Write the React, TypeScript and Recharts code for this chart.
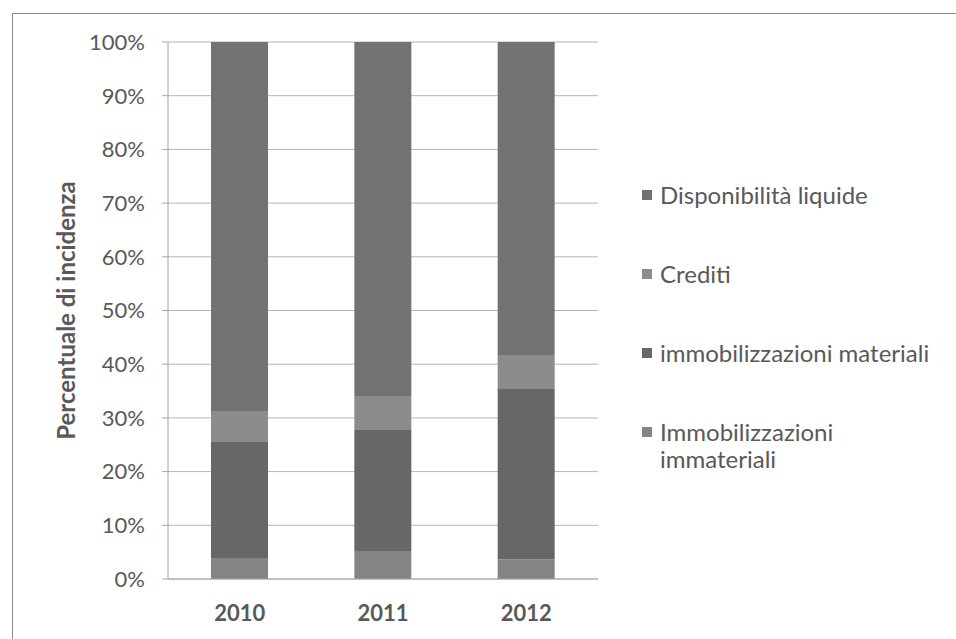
import * as React from 'react'
import {
  BarChart,
  Bar,
  XAxis,
  YAxis,
  CartesianGrid,
  Legend } from 'recharts';

const years = ['2010', '2011', '2012']
const immateriali = [3.9, 5.2, 3.7]
const materiali = [21.6, 22.7, 31.7]
const crediti = [5.8, 6.2, 6.3]
const disponibilita = [68.7, 65.9, 58.3]
const yTicks = [0, 10, 20, 30, 40, 50, 60, 70, 80, 90, 100]
const edgeTicks = [0, 1, 2, 3]
// legend reads top to bottom, opposite of the stack
const legendOrder = ['Disponibilità liquide', 'Crediti', 'immobilizzazioni materiali', 'Immobilizzazioni immateriali']

const data = years.map((year, i) => ({
  year,
  immateriali: immateriali[i],
  materiali: materiali[i],
  crediti: crediti[i],
  disponibilita: disponibilita[i],
}))

const font = 'Lato, "Open Sans", sans-serif'
const textGray = '#595959'

const LegendBox = (props: any) => {
  const payload = props.payload || []
  const items = legendOrder
    .map((name) => payload.find((p: any) => p.value === name))
    .filter(Boolean)
  return (
    <div style={{ fontFamily: font, fontSize: 24, color: textGray }}>
      {items.map((entry: any) => (
        <div key={entry.value} style={{ display: 'flex', alignItems: 'flex-start', lineHeight: '27px', marginBottom: 52 }}>
          <span style={{ display: 'inline-block', width: 10, height: 10, background: entry.color, marginTop: 9, marginRight: 8, flexShrink: 0 }} />
          <span style={{ width: 284 }}>{entry.value}</span>
        </div>
      ))}
    </div>
  )
}

const Chart = () => {
  return (
    <BarChart
      width={956}
      height={639}
      data={data}
      barCategoryGap="30%"
      margin={{ top: 42, right: 58, bottom: 0, left: 0 }}
    >
      <CartesianGrid vertical={false} stroke="#b5b5b5" />
      <XAxis
        xAxisId="edges"
        type="number"
        domain={[0, 3]}
        ticks={edgeTicks}
        height={0}
        tick={false}
        axisLine={false}
        tickSize={8}
        tickLine={{ stroke: '#9a9a9a' }}
      />
      <XAxis
        xAxisId="main"
        dataKey="year"
        height={60}
        tickLine={false}
        tickSize={0}
        tickMargin={26}
        axisLine={{ stroke: '#a6a6a6' }}
        tick={{ fill: textGray, fontFamily: font, fontSize: 22, fontWeight: 700 }}
      />
      <YAxis
        width={168}
        domain={[0, 100]}
        ticks={yTicks}
        tickFormatter={(v: number) => `${v}%`}
        tickSize={6}
        tickMargin={17}
        axisLine={{ stroke: '#a6a6a6' }}
        tickLine={{ stroke: '#a6a6a6' }}
        tick={{ fill: textGray, fontFamily: font, fontSize: 22 }}
        label={{
          value: 'Percentuale di incidenza',
          angle: -90,
          position: 'insideLeft',
          offset: 66,
          style: { textAnchor: 'middle', fill: textGray, fontFamily: font, fontSize: 24, fontWeight: 700 },
        }}
      />
      <Bar xAxisId="main" dataKey="immateriali" name="Immobilizzazioni immateriali" stackId="a" fill="#848484" isAnimationActive={false} />
      <Bar xAxisId="main" dataKey="materiali" name="immobilizzazioni materiali" stackId="a" fill="#676767" isAnimationActive={false} />
      <Bar xAxisId="main" dataKey="crediti" name="Crediti" stackId="a" fill="#8c8c8c" isAnimationActive={false} />
      <Bar xAxisId="main" dataKey="disponibilita" name="Disponibilità liquide" stackId="a" fill="#727272" isAnimationActive={false} />
      <Legend
        layout="vertical"
        align="right"
        verticalAlign="top"
        content={LegendBox}
        wrapperStyle={{ left: 642, top: 181, width: 300 }}
      />
    </BarChart>
  )
}

export default function App() {
  return (
    <div style={{ position: 'fixed', left: 0, top: 0, width: 956, height: 639, overflow: 'hidden', background: '#fff' }}>
      <div style={{ position: 'absolute', left: 12, top: 13, width: 980, height: 680, border: '1.5px solid #8a8a8a' }} />
      <div style={{ position: 'absolute', left: 0, top: 0 }}>
        <Chart />
      </div>
    </div>
  )
}
